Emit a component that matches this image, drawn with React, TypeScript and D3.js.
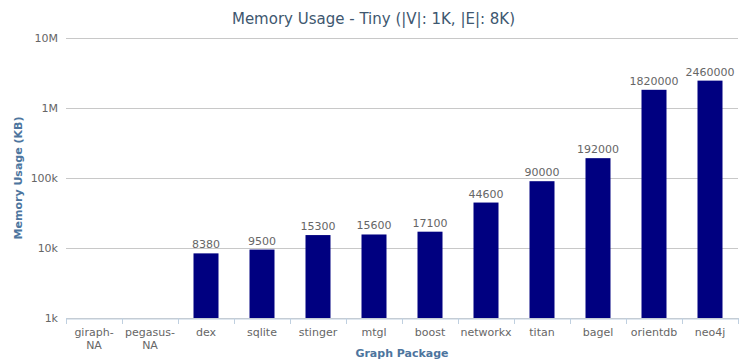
import React, { useRef, useEffect } from 'react';
import * as d3 from 'd3';

const categories = ['giraph-NA', 'pegasus-NA', 'dex', 'sqlite', 'stinger', 'mtgl', 'boost', 'networkx', 'titan', 'bagel', 'orientdb', 'neo4j'];
const memoryKB: (number | null)[] = [null, null, 8380, 9500, 15300, 15600, 17100, 44600, 90000, 192000, 1820000, 2460000];
const yTicks = [1e3, 1e4, 1e5, 1e6, 1e7];
const yTickLabels = ['1k', '10k', '100k', '1M', '10M'];

const FONT = '"DejaVu Sans", "Lucida Grande", sans-serif';

const App = () => {
  const ref = useRef<SVGSVGElement>(null);

  useEffect(() => {
    document.body.style.margin = '0';
    document.body.style.overflow = 'hidden';

    const W = 747;
    const H = 362;
    const margin = { top: 38, right: 9, bottom: 44, left: 66 };
    const width = W - margin.left - margin.right;
    const height = H - margin.top - margin.bottom;

    const root = d3.select(ref.current);
    root.selectAll('*').remove();
    root
      .attr('width', W)
      .attr('height', H)
      .style('display', 'block')
      .style('position', 'absolute')
      .style('top', '0px')
      .style('left', '0px')
      .style('font-family', FONT);

    const x = d3.scaleBand().domain(categories).range([0, width]).paddingInner(0).paddingOuter(0);
    const y = d3.scaleLog().domain([1e3, 1e7]).range([height, 0]);

    root
      .append('text')
      .attr('x', W / 2)
      .attr('y', 24)
      .attr('text-anchor', 'middle')
      .attr('font-size', '15px')
      .attr('fill', '#3E576F')
      .text('Memory Usage - Tiny (|V|: 1K, |E|: 8K)');

    const g = root.append('g').attr('transform', `translate(${margin.left},${margin.top})`);

    // grid
    g.selectAll('line.grid')
      .data(yTicks)
      .enter()
      .append('line')
      .attr('class', 'grid')
      .attr('x1', 0)
      .attr('x2', width)
      .attr('y1', (d) => Math.round(y(d)) + 0.5)
      .attr('y2', (d) => Math.round(y(d)) + 0.5)
      .attr('stroke', '#C8C8C8')
      .attr('stroke-width', 1);

    // y labels
    g.selectAll('text.ylab')
      .data(yTicks)
      .enter()
      .append('text')
      .attr('class', 'ylab')
      .attr('x', -8)
      .attr('y', (d) => y(d) + 4)
      .attr('text-anchor', 'end')
      .attr('font-size', '11px')
      .attr('fill', '#666')
      .text((d, i) => yTickLabels[i]);

    // bars
    const bw = 25;
    const bars = categories.map((c, i) => ({ c, v: memoryKB[i] })).filter((d) => d.v != null) as { c: string; v: number }[];
    g.selectAll('rect')
      .data(bars)
      .enter()
      .append('rect')
      .attr('x', (d) => x(d.c)! + x.bandwidth() / 2 - bw / 2)
      .attr('y', (d) => y(d.v))
      .attr('width', bw)
      .attr('height', (d) => height - y(d.v))
      .attr('fill', '#000080');

    g.selectAll('text.dl')
      .data(bars)
      .enter()
      .append('text')
      .attr('class', 'dl')
      .attr('x', (d) => x(d.c)! + x.bandwidth() / 2)
      .attr('y', (d) => y(d.v) - 5)
      .attr('text-anchor', 'middle')
      .attr('font-size', '11px')
      .attr('fill', '#666')
      .text((d) => String(d.v));

    // x axis
    const xAxis = d3.axisBottom(x).tickSize(0).tickPadding(8);
    const ax = g.append('g').attr('transform', `translate(0,${height + 0.5})`).call(xAxis);
    ax.select('path').attr('stroke', '#C0D0E0');
    ax.selectAll('text').remove();
    ax.selectAll('g.tick')
      .append('text')
      .attr('y', 17)
      .attr('text-anchor', 'middle')
      .attr('font-size', '11px')
      .attr('fill', '#666')
      .style('font-family', FONT)
      .each(function (d) {
        const parts = String(d).endsWith('-NA') ? [String(d).replace('-NA', '-'), 'NA'] : [String(d)];
        const t = d3.select(this);
        parts.forEach((p, i) => t.append('tspan').attr('x', 0).attr('dy', i === 0 ? 0 : 13).text(p));
      });

    // boundary ticks
    g.selectAll('line.btick')
      .data(d3.range(categories.length + 1))
      .enter()
      .append('line')
      .attr('class', 'btick')
      .attr('x1', (i) => Math.round(i * x.step()) + 0.5)
      .attr('x2', (i) => Math.round(i * x.step()) + 0.5)
      .attr('y1', height)
      .attr('y2', height + 6)
      .attr('stroke', '#C0D0E0');

    // axis titles
    root
      .append('text')
      .attr('x', margin.left + width / 2)
      .attr('y', 357)
      .attr('text-anchor', 'middle')
      .attr('font-size', '11px')
      .attr('font-weight', 'bold')
      .attr('fill', '#4D759E')
      .text('Graph Package');

    root
      .append('text')
      .attr('transform', `translate(22,${margin.top + height / 2}) rotate(-90)`)
      .attr('text-anchor', 'middle')
      .attr('font-size', '11px')
      .attr('font-weight', 'bold')
      .attr('fill', '#4D759E')
      .text('Memory Usage (KB)');
  }, []);

  return <svg ref={ref}></svg>;
};

export default function Root() {
  return <App />;
}
